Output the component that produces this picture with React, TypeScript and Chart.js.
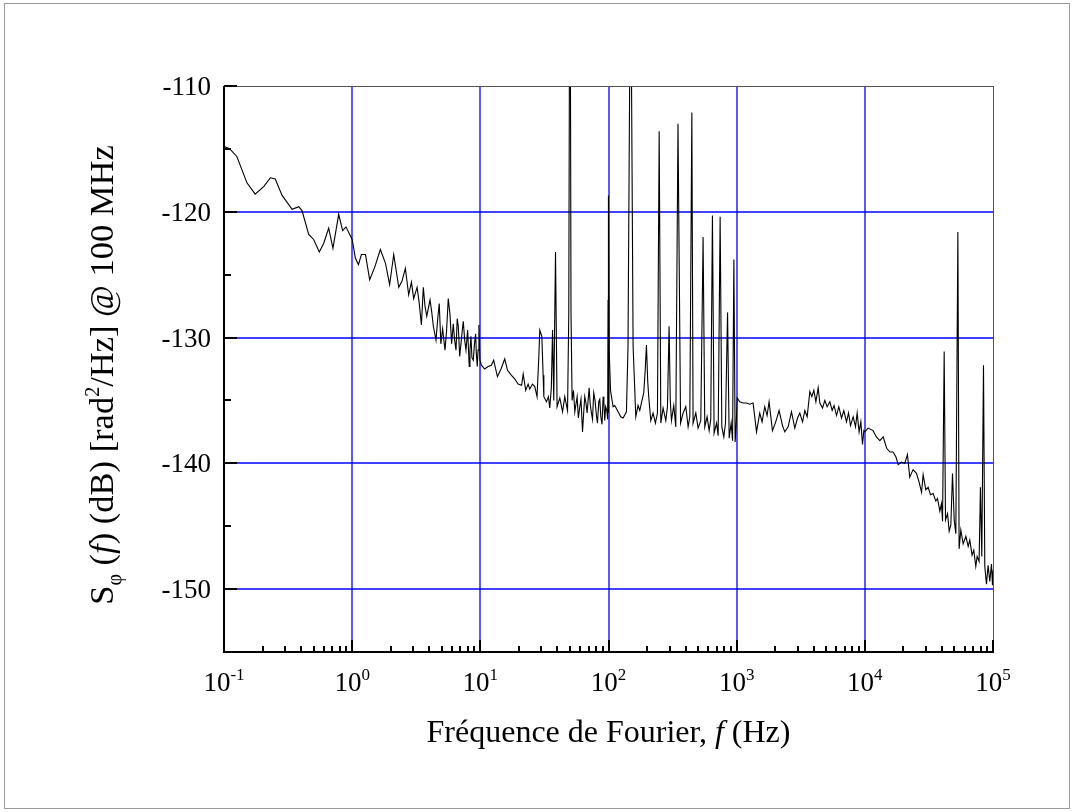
import React, { useEffect, useRef } from "react";
import { Chart, registerables } from "chart.js";

Chart.register(...registerables);

// ---- Data: frequency (Hz) and phase-noise PSD (dB rad^2/Hz), by decade ----
const FREQ_D1 = [0.1, 0.111, 0.126, 0.151, 0.175, 0.204, 0.23, 0.251, 0.284, 0.34, 0.383, 0.406, 0.458, 0.501, 0.554, 0.6, 0.656, 0.708, 0.785, 0.843, 0.895, 1.0];
const PSD_D1 = [-114.8, -115.0, -115.6, -117.7, -118.6, -118.0, -117.3, -117.4, -118.7, -119.8, -119.6, -119.9, -121.8, -122.2, -123.2, -122.5, -121.3, -122.9, -120.2, -121.5, -121.2, -122.2];

const FREQ_D2 = [1.06, 1.12, 1.18, 1.27, 1.37, 1.5, 1.66, 1.82, 1.96, 2.11, 2.31, 2.45, 2.6, 2.76, 2.9, 3.02, 3.21, 3.33, 3.47, 3.59, 3.7, 3.82, 4.05, 4.18, 4.3, 4.51, 4.65, 4.78, 4.92, 5.08, 5.3, 5.45, 5.62, 5.8, 5.97, 6.15, 6.3, 6.46, 6.6, 6.73, 6.9, 7.06, 7.2, 7.36, 7.55, 7.73, 7.96, 8.19, 8.3, 8.45, 8.6, 8.81, 9.0, 9.19, 9.3, 9.46, 9.6, 9.75, 9.93];
const PSD_D2 = [-123.7, -124.2, -123.4, -123.4, -125.4, -124.4, -123.0, -124.1, -125.8, -123.4, -126.0, -125.5, -124.5, -126.6, -125.6, -126.9, -126.0, -127.2, -129.0, -126.0, -127.5, -128.3, -127.0, -128.0, -129.1, -130.2, -128.5, -127.3, -130.5, -129.3, -131.0, -129.5, -126.9, -128.2, -130.5, -128.9, -130.2, -131.0, -128.5, -129.1, -131.5, -130.5, -129.6, -128.7, -130.2, -131.0, -129.4, -132.3, -131.0, -129.9, -131.6, -131.8, -130.5, -129.7, -131.2, -132.3, -131.0, -129.0, -131.8];

const FREQ_D3 = [10.2, 10.8, 11.5, 12.2, 12.7, 13.6, 14.5, 15.5, 16.3, 17.5, 18.6, 19.7, 21.0, 21.6, 22.6, 23.6, 24.3, 25.5, 26.6, 27.7, 28.6, 29.1, 30.2, 30.9, 31.3, 32.8, 34.0, 34.8, 35.8, 36.6, 37.4, 38.6, 39.7, 41.7, 43.8, 45.6, 47.9, 49.0, 49.6, 50.4, 51.0, 52.0, 53.3, 54.6, 56.9, 58.2, 59.7, 61.0, 62.7, 64.0, 65.3, 66.7, 68.1, 70.6, 72.0, 73.6, 75.0, 76.7, 78.5, 80.5, 82.0, 84.0, 85.5, 87.1, 89.0, 90.8, 92.0, 93.5, 95.0, 97.0, 98.5, 99.2, 99.6];
const PSD_D3 = [-132.2, -132.5, -132.3, -132.2, -131.8, -133.1, -132.5, -131.7, -132.6, -133.0, -133.3, -133.7, -133.8, -132.9, -134.2, -133.7, -134.1, -133.7, -133.9, -134.7, -131.5, -129.4, -129.9, -133.0, -134.7, -135.1, -134.7, -135.6, -134.0, -129.4, -135.0, -123.2, -135.5, -134.8, -135.9, -134.7, -135.8, -128.0, -106.0, -106.0, -128.0, -135.0, -134.2, -135.9, -134.7, -136.4, -135.5, -134.9, -137.5, -136.0, -134.7, -135.2, -136.0, -134.0, -135.3, -136.0, -136.5, -134.4, -135.0, -136.2, -136.8, -135.1, -134.9, -136.3, -136.9, -134.7, -135.2, -136.6, -135.5, -135.8, -136.5, -127.0, -136.0];

const FREQ_D4 = [100.2, 101.2, 103.7, 108.6, 112, 118.8, 124.7, 130, 138, 142, 147, 150.5, 155.6, 163.3, 170, 175.4, 180.7, 188.4, 193.6, 197.7, 202.3, 206, 213.8, 222.8, 232.3, 241, 248.5, 256, 266.6, 280, 288.4, 297, 303.4, 310, 323, 335, 348.5, 365, 382, 401, 418, 431, 447, 457, 480, 500, 525, 547, 564, 588, 610, 628, 647, 667, 697, 717, 743, 766, 794, 818, 849, 874, 906, 929, 951, 973, 991];
const PSD_D4 = [-118.7, -131.0, -134.2, -135.5, -135.4, -135.9, -136.3, -136.4, -135.9, -130.7, -106.0, -106.0, -130.7, -136.3, -135.4, -135.8, -135.2, -134.4, -132.5, -130.6, -133.5, -134.7, -136.6, -136.0, -136.8, -136.0, -113.6, -136.8, -135.6, -136.6, -135.5, -129.1, -135.0, -136.6, -135.4, -137.1, -113.0, -136.8, -136.0, -135.5, -137.1, -136.3, -112.1, -136.8, -136.0, -137.2, -136.6, -122.0, -137.1, -136.3, -137.4, -136.5, -120.3, -137.6, -136.8, -137.8, -120.4, -137.1, -137.9, -136.8, -128.0, -138.0, -136.8, -138.2, -123.8, -138.3, -137.0];

const FREQ_D5 = [1009, 1057, 1122, 1191, 1265, 1343, 1429, 1514, 1578, 1656, 1727, 1790, 1902, 2018, 2143, 2278, 2374, 2520, 2677, 2842, 2985, 3110, 3265, 3404, 3548, 3724, 3860, 4000, 4150, 4325, 4457, 4677, 4875, 5080, 5333, 5560, 5757, 6012, 6266, 6577, 6855, 7194, 7460, 7727, 8110, 8460, 8710, 9020, 9310, 9590, 9820, 10000];
const PSD_D5 = [-134.8, -135.1, -135.2, -135.2, -135.3, -135.2, -137.5, -136.0, -136.7, -135.5, -136.2, -135.1, -137.4, -136.7, -135.8, -137.0, -137.5, -137.1, -135.9, -137.2, -136.4, -136.0, -136.7, -135.8, -136.3, -134.3, -134.7, -134.2, -135.1, -134.0, -135.2, -135.6, -135.0, -135.5, -135.1, -135.8, -135.4, -136.2, -135.5, -136.4, -135.8, -136.7, -136.0, -137.0, -136.3, -137.1, -136.0, -137.5, -136.7, -138.5, -137.4, -137.5];

const FREQ_D6 = [10600, 11600, 12300, 13100, 13900, 14800, 15700, 16600, 17500, 18200, 19300, 20500, 21500, 22400, 23800, 25300, 26500, 27700, 28500, 29900, 31200, 32500, 34100, 35800, 36900, 38500, 39600, 40400, 41600, 42600, 44200, 45500, 46900, 48300, 49800, 51300, 53200, 54400, 56100, 58500, 61400, 64000, 65900, 68700, 70800, 73400, 75200, 77900, 79800, 81800, 84300, 86300, 88900, 91600, 94400, 97300, 99100, 100000];
const PSD_D6 = [-137.2, -137.4, -137.9, -138.2, -137.9, -138.8, -139.1, -139.1, -139.5, -140.1, -139.9, -140.0, -139.3, -141.1, -140.5, -140.8, -141.5, -142.3, -140.9, -142.1, -141.9, -142.5, -142.4, -143.0, -142.8, -143.8, -143.2, -144.6, -131.1, -144.5, -144.0, -145.4, -144.9, -140.8, -144.5, -145.6, -121.6, -146.8, -145.3, -146.4, -145.8, -146.6, -146.1, -147.3, -146.9, -148.2, -147.4, -147.8, -141.9, -147.4, -132.2, -148.2, -149.6, -148.1, -149.4, -148.0, -149.7, -148.5];

// ---- Axes ----
const X_MIN = 0.1;
const X_MAX = 100000;
const Y_MIN = -155;
const Y_MAX = -110;
const X_DECADES = [0.1, 1, 10, 100, 1000, 10000, 100000];
const X_EXPONENT_LABELS = ["-1", "0", "1", "2", "3", "4", "5"];
const X_GRID = [1, 10, 100, 1000, 10000];
const Y_MAJOR = [-110, -120, -130, -140, -150];
const Y_MAJOR_LABELS = ["-110", "-120", "-130", "-140", "-150"];
const Y_MINOR = [-115, -125, -135, -145];
const Y_GRID = [-120, -130, -140, -150];
const MINOR_MULTIPLIERS = [2, 3, 4, 5, 6, 7, 8, 9];

const W = 1074;
const H = 812;
const SERIF = '"Liberation Serif", "Times New Roman", Times, serif';

type Seg = { t: string; size: number; italic?: boolean; dy?: number };

function richWidth(ctx: CanvasRenderingContext2D, segs: Seg[]) {
  let w = 0;
  for (const s of segs) {
    ctx.font = `${s.italic ? "italic " : ""}${s.size}px ${SERIF}`;
    w += ctx.measureText(s.t).width;
  }
  return w;
}

function drawRich(ctx: CanvasRenderingContext2D, segs: Seg[], x: number, y: number, align: "left" | "center" | "right") {
  const w = richWidth(ctx, segs);
  let cx = align === "left" ? x : align === "center" ? x - w / 2 : x - w;
  ctx.textAlign = "left";
  ctx.textBaseline = "alphabetic";
  for (const s of segs) {
    ctx.font = `${s.italic ? "italic " : ""}${s.size}px ${SERIF}`;
    ctx.fillText(s.t, cx, y + (s.dy || 0));
    cx += ctx.measureText(s.t).width;
  }
}

const decorPlugin = {
  id: "decor",
  beforeDatasetsDraw(chart: any) {
    const { ctx, chartArea: a, scales } = chart;
    const xs = scales.x;
    const ys = scales.y;
    ctx.save();
    ctx.strokeStyle = "#0000ff";
    ctx.lineWidth = 1.3;
    for (const v of X_GRID) {
      const px = Math.round(xs.getPixelForValue(v));
      ctx.beginPath();
      ctx.moveTo(px, a.top);
      ctx.lineTo(px, a.bottom);
      ctx.stroke();
    }
    for (const v of Y_GRID) {
      const py = Math.round(ys.getPixelForValue(v));
      ctx.beginPath();
      ctx.moveTo(a.left, py);
      ctx.lineTo(a.right, py);
      ctx.stroke();
    }
    ctx.restore();
  },
  afterDatasetsDraw(chart: any) {
    const { ctx, chartArea: a, scales } = chart;
    const xs = scales.x;
    const ys = scales.y;
    ctx.save();

    // outer page frame
    ctx.strokeStyle = "#9a9a9a";
    ctx.lineWidth = 1;
    ctx.strokeRect(4.5, 3.5, W - 9, H - 7);

    // top & right frame (thin gray)
    ctx.strokeStyle = "#555555";
    ctx.lineWidth = 1;
    ctx.beginPath();
    ctx.moveTo(a.left, a.top + 0.5);
    ctx.lineTo(a.right, a.top + 0.5);
    ctx.moveTo(a.right + 0.5, a.top);
    ctx.lineTo(a.right + 0.5, a.bottom);
    ctx.stroke();

    // left & bottom axes (thick black)
    ctx.strokeStyle = "#000000";
    ctx.lineWidth = 2;
    ctx.beginPath();
    ctx.moveTo(a.left, a.top);
    ctx.lineTo(a.left, a.bottom + 1);
    ctx.moveTo(a.left - 1, a.bottom);
    ctx.lineTo(a.right + 1, a.bottom);
    ctx.stroke();

    // y ticks (inward)
    ctx.beginPath();
    for (const v of Y_MAJOR) {
      const py = Math.round(ys.getPixelForValue(v));
      ctx.moveTo(a.left, py);
      ctx.lineTo(a.left + 13, py);
    }
    for (const v of Y_MINOR) {
      const py = Math.round(ys.getPixelForValue(v));
      ctx.moveTo(a.left, py);
      ctx.lineTo(a.left + 7, py);
    }
    // x ticks (inward)
    for (const v of X_DECADES) {
      const px = Math.round(xs.getPixelForValue(v));
      ctx.moveTo(px, a.bottom);
      ctx.lineTo(px, a.bottom - 12);
    }
    for (let i = 0; i < X_DECADES.length - 1; i++) {
      for (const m of MINOR_MULTIPLIERS) {
        const px = Math.round(xs.getPixelForValue(X_DECADES[i] * m));
        ctx.moveTo(px, a.bottom);
        ctx.lineTo(px, a.bottom - 6);
      }
    }
    ctx.stroke();

    // y tick labels
    ctx.fillStyle = "#000000";
    Y_MAJOR.forEach((v, i) => {
      const py = ys.getPixelForValue(v);
      drawRich(ctx, [{ t: Y_MAJOR_LABELS[i], size: 27 }], a.left - 13, py + 9, "right");
    });

    // x tick labels 10^n
    X_DECADES.forEach((v, i) => {
      const px = xs.getPixelForValue(v);
      drawRich(
        ctx,
        [
          { t: "10", size: 27 },
          { t: X_EXPONENT_LABELS[i], size: 17, dy: -11 },
        ],
        px,
        a.bottom + 39,
        "center"
      );
    });

    // x title
    drawRich(
      ctx,
      [
        { t: "Fréquence de Fourier, ", size: 32 },
        { t: "f", size: 32, italic: true },
        { t: " (Hz)", size: 32 },
      ],
      (a.left + a.right) / 2,
      742,
      "center"
    );

    // y title (rotated)
    ctx.save();
    ctx.translate(113, 375);
    ctx.rotate(-Math.PI / 2);
    drawRich(
      ctx,
      [
        { t: "S", size: 34.5 },
        { t: "φ", size: 20, dy: 8 },
        { t: " (", size: 34.5 },
        { t: "f", size: 34.5, italic: true },
        { t: ") (dB) [rad", size: 34.5 },
        { t: "2", size: 20, dy: -14 },
        { t: "/Hz] @ 100 MHz", size: 34.5 },
      ],
      0,
      0,
      "center"
    );
    ctx.restore();

    ctx.restore();
  },
};

export default function App() {
  const ref = useRef<HTMLCanvasElement | null>(null);

  useEffect(() => {
    if (!ref.current) return;
    const freqs = [...FREQ_D1, ...FREQ_D2, ...FREQ_D3, ...FREQ_D4, ...FREQ_D5, ...FREQ_D6];
    const psd = [...PSD_D1, ...PSD_D2, ...PSD_D3, ...PSD_D4, ...PSD_D5, ...PSD_D6];
    const points = freqs.map((f, i) => ({ x: f, y: psd[i] }));

    const chart = new Chart(ref.current, {
      type: "line",
      data: {
        datasets: [
          {
            data: points,
            borderColor: "#000000",
            borderWidth: 1.1,
            pointRadius: 0,
            tension: 0,
            fill: false,
          },
        ],
      },
      options: {
        animation: false,
        responsive: false,
        devicePixelRatio: 1,
        layout: {
          autoPadding: false,
          padding: { left: 0, top: 86, right: W - 993, bottom: 0 },
        },
        plugins: {
          legend: { display: false },
          tooltip: { enabled: false },
        },
        scales: {
          x: {
            type: "logarithmic",
            min: X_MIN,
            max: X_MAX,
            grid: { display: false },
            border: { display: false },
            ticks: { display: false },
            afterFit: (s: any) => {
              s.height = H - 652;
            },
          },
          y: {
            type: "linear",
            min: Y_MIN,
            max: Y_MAX,
            grid: { display: false },
            border: { display: false },
            ticks: { display: false },
            afterFit: (s: any) => {
              s.width = 224;
            },
          },
        },
      },
      plugins: [decorPlugin],
    } as any);

    return () => chart.destroy();
  }, []);

  return (
    <div style={{ position: "absolute", left: 0, top: 0, width: W, height: H, background: "#ffffff" }}>
      <canvas ref={ref} width={W} height={H} style={{ display: "block", width: W, height: H }} />
    </div>
  );
}
